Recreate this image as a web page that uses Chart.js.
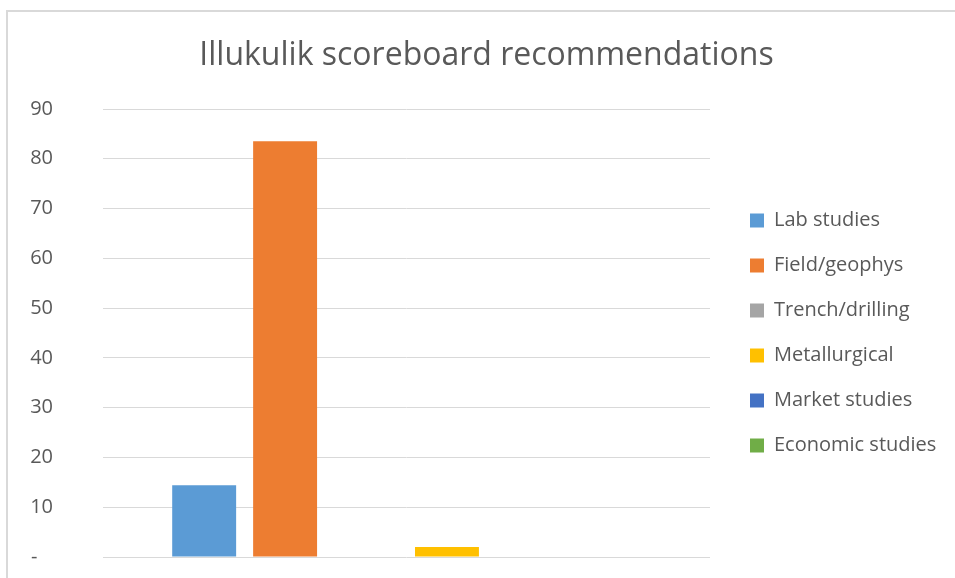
<!DOCTYPE html>
<html>
<head>
<meta charset="utf-8">
<script src="https://cdn.jsdelivr.net/npm/chart.js@4"></script>
<style>
  html, body { margin: 0; padding: 0; background: #fff; }
  #wrap { position: relative; width: 955px; height: 578px; overflow: hidden; }
  #frame { position: absolute; left: 6px; top: 10px; width: 1000px; height: 700px; border: 2px solid #d9d9d9; }
  #myBarChart { position: absolute; left: 0; top: 0; }
</style>
</head>
<body>
<div id="wrap">
  <div id="frame"></div>
  <canvas id="myBarChart" width="955" height="578"></canvas>
</div>
<script>
const categories = [''];
const seriesNames = ['Lab studies', 'Field/geophys', 'Trench/drilling', 'Metallurgical', 'Market studies', 'Economic studies'];
const labStudies = [14.4];
const fieldGeophys = [83.5];
const trenchDrilling = [0];
const metallurgical = [2];
const marketStudies = [0];
const economicStudies = [0];
const yTicks = [0, 10, 20, 30, 40, 50, 60, 70, 80, 90];

const seriesValues = [labStudies, fieldGeophys, trenchDrilling, metallurgical, marketStudies, economicStudies];
const colors = ['#5b9bd5', '#ed7d31', '#a5a5a5', '#ffc000', '#4472c4', '#70ad47'];
const textColor = '#595959';

// legend sits a bit right of the plot, like in the original
const legendPlacement = {
    id: 'legendPlacement',
    beforeUpdate(chart) {
        const lg = chart.legend;
        if (lg && !lg._fixed) {
            const fit = lg.fit;
            lg.fit = function () {
                fit.call(this);
                this.width = 238;
            };
            lg._fixed = true;
        }
    },
    afterLayout(chart) {
        chart.legend.left += 15;
        chart.legend.right += 15;
    }
};

const ctx = document.getElementById('myBarChart').getContext('2d');
const myBarChart = new Chart(ctx, {
    type: 'bar',
    data: {
        labels: categories,
        datasets: seriesNames.map((name, i) => ({
            label: name,
            data: seriesValues[i],
            backgroundColor: colors[i],
            borderWidth: 0,
            categoryPercentage: 0.8,
            barPercentage: 0.79
        }))
    },
    options: {
        responsive: false,
        animation: false,
        layout: { padding: { left: 25, right: 7, top: 12, bottom: 21 } },
        scales: {
            x: { display: false },
            y: {
                min: 0,
                max: 90,
                afterBuildTicks: (scale) => { scale.ticks = yTicks.map(v => ({ value: v })); },
                afterFit: (scale) => { scale.width = 78; },
                border: { display: false },
                grid: { color: '#d9d9d9', lineWidth: 1, drawTicks: true, tickLength: 45, tickColor: 'rgba(0,0,0,0)' },
                ticks: {
                    padding: 5,
                    color: textColor,
                    font: { family: 'Open Sans', size: 20 },
                    callback: (v) => v === 0 ? '-   ' : v
                }
            }
        },
        plugins: {
            title: {
                display: true,
                text: 'Illukulik scoreboard recommendations',
                color: textColor,
                font: { family: 'Open Sans', size: 32, weight: 'normal' },
                padding: { top: 25, bottom: 33.6 }
            },
            legend: {
                position: 'right',
                fullSize: false,
                labels: {
                    boxWidth: 14,
                    boxHeight: 14,
                    padding: 25,
                    color: textColor,
                    font: { family: 'Open Sans', size: 20 }
                }
            },
            tooltip: { enabled: false }
        }
    },
    plugins: [legendPlacement]
});
</script>
</body>
</html>
